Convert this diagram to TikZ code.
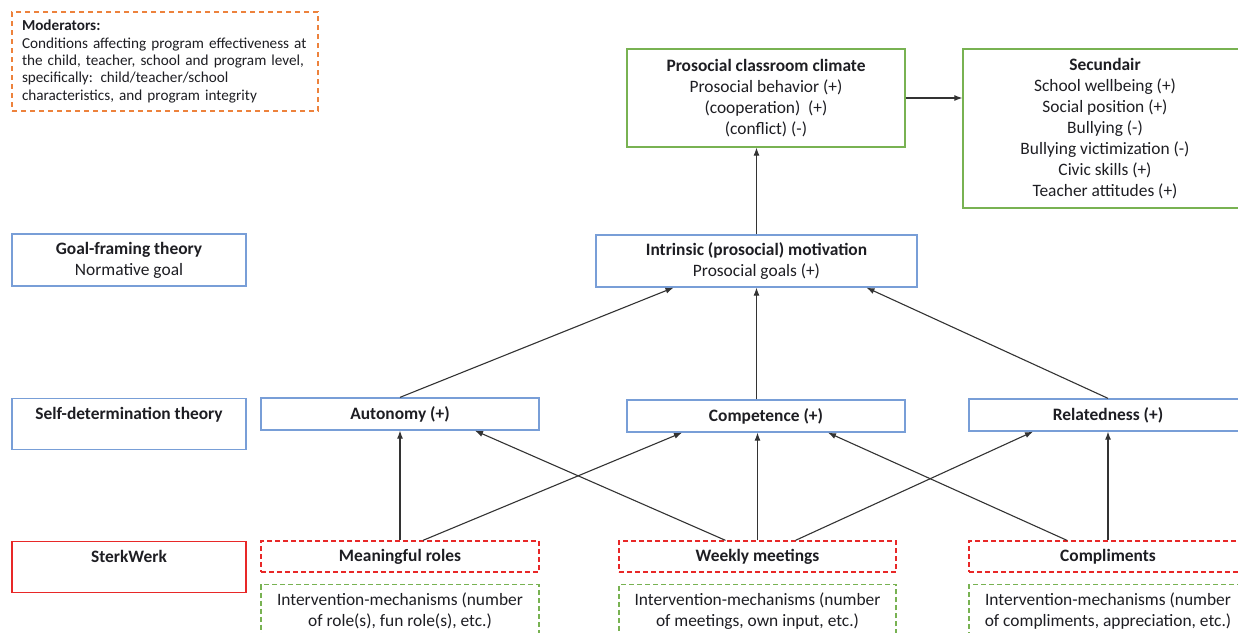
\documentclass[tikz,border=0pt]{standalone}
\usepackage{fontspec}
\setmainfont{Carlito}
\usetikzlibrary{arrows.meta,positioning,calc}
\definecolor{theoryBlue}{RGB}{120,158,215}
\definecolor{outcomeGreen}{RGB}{120,178,82}
\definecolor{programRed}{RGB}{232,40,40}
\definecolor{moderatorOrange}{RGB}{237,130,60}
\definecolor{textDark}{RGB}{30,30,35}
\newcommand{\boxfont}{\fontsize{17.4}{21}\selectfont}
\newcommand{\notefont}{\fontsize{15.2}{17.3}\selectfont}
\tikzset{
  theory/.style={draw=theoryBlue, line width=1.3pt, fill=white, align=center, text=textDark, font=\boxfont, inner sep=3pt},
  outcome/.style={draw=outcomeGreen, line width=1.3pt, fill=white, align=center, text=textDark, font=\boxfont, inner sep=3pt},
  program/.style={draw=programRed, line width=1.3pt, fill=white, align=center, text=textDark, font=\boxfont, inner sep=3pt},
  component/.style={draw=programRed, line width=1.3pt, dash pattern=on 5pt off 3pt, align=center, text=textDark, font=\boxfont, inner sep=3pt},
  mechanism/.style={draw=outcomeGreen, line width=1.3pt, dash pattern=on 5pt off 3pt, align=center, text=textDark, font=\boxfont, inner xsep=3pt, inner ysep=8pt, anchor=north},
  moderator/.style={draw=moderatorOrange, line width=1.3pt, dash pattern=on 5pt off 4pt, align=left, text=textDark, font=\notefont, inner xsep=10pt},
  toptext/.style={anchor=north, inner ysep=5pt, text height=16pt, text depth=25pt},
  arrow/.style={-{Latex[length=8pt,width=6pt]}, line width=1.1pt, draw=black!80}
}

\begin{document}
\begin{tikzpicture}[x=1pt,y=-1pt]
  \clip (0,0) rectangle (1238,632);
  \fill[white] (0,0) rectangle (1238,632);

  % moderators
  \node[moderator, minimum width=306pt, minimum height=99pt, text width=286pt] (moderators) at (165,61.5) {
    \textbf{Moderators:}\\
    Conditions affecting program effectiveness at\\
    the child, teacher, school and program level,\\
    specifically: child/teacher/school\\
    characteristics, and program integrity
  };

  % outcomes
  \node[outcome, minimum width=278pt, minimum height=98pt] (prosocial) at (766,98) {
    \textbf{Prosocial classroom climate}\\
    Prosocial behavior (+)\\
    (cooperation)\ \ (+)\\
    (conflict) (-)
  };
  \node[outcome, minimum width=284pt, minimum height=159pt] (secundair) at (1105,128.5) {
    \textbf{Secundair}\\
    School wellbeing (+)\\
    Social position (+)\\
    Bullying (-)\\
    Bullying victimization (-)\\
    Civic skills (+)\\
    Teacher attitudes (+)
  };

  % theories
  \node[theory, minimum width=234pt, minimum height=52pt] (goalframing) at (129,260) {
    \textbf{Goal-framing theory}\\
    Normative goal
  };
  \node[theory, minimum width=321pt, minimum height=52pt] (intrinsic) at (756.5,261) {
    \textbf{Intrinsic (prosocial) motivation}\\
    Prosocial goals (+)
  };
  \node[theory, toptext, minimum width=234pt] (selfdetermination) at (129,398) {\textbf{Self-determination theory}};
  \node[theory, minimum width=278pt, minimum height=32pt] (autonomy) at (400,414) {\textbf{Autonomy (+)}};
  \node[theory, minimum width=278pt, minimum height=32pt] (competence) at (766,416) {\textbf{Competence (+)}};
  \node[theory, minimum width=278pt, minimum height=32pt] (relatedness) at (1108,415) {\textbf{Relatedness (+)}};

  % program
  \node[program, toptext, minimum width=234pt] (sterkwerk) at (129,541) {\textbf{SterkWerk}};
  \node[component, minimum width=278pt, minimum height=31pt] (roles) at (400,556.5) {\textbf{Meaningful roles}};
  \node[component, minimum width=277pt, minimum height=31pt] (weekly) at (757.5,556.5) {\textbf{Weekly meetings}};
  \node[component, minimum width=278pt, minimum height=31pt] (compliments) at (1108,556.5) {\textbf{Compliments}};

  \node[mechanism, minimum width=278pt] (rolesmech) at (400,584) {
    Intervention-mechanisms (number\\
    of role(s), fun role(s), etc.)
  };
  \node[mechanism, minimum width=277pt] (weeklymech) at (757.5,584) {
    Intervention-mechanisms (number\\
    of meetings, own input, etc.)
  };
  \node[mechanism, minimum width=278pt] (complimentsmech) at (1108,584) {
    Intervention-mechanisms (number\\
    of compliments, appreciation, etc.)
  };

  % connectors
  \draw[arrow] (prosocial.east) -- (prosocial.east -| secundair.west);
  \draw[arrow] (intrinsic.north) -- (intrinsic.north |- prosocial.south);
  \draw[arrow] (autonomy.north) -- ([xshift=-83pt]intrinsic.south);
  \draw[arrow] (competence.north -| intrinsic.south) -- (intrinsic.south);
  \draw[arrow] (relatedness.north) -- ([xshift=110pt]intrinsic.south);

  \draw[arrow] (roles.north) -- (autonomy.south);
  \draw[arrow] ([xshift=23pt]roles.north) -- ([xshift=-84pt]competence.south);
  \draw[arrow] ([xshift=-32pt]weekly.north) -- ([xshift=75pt]autonomy.south);
  \draw[arrow] (weekly.north) -- (weekly.north |- competence.south);
  \draw[arrow] ([xshift=38pt]weekly.north) -- ([xshift=-75pt]relatedness.south);
  \draw[arrow] ([xshift=-41pt]compliments.north) -- ([xshift=62pt]competence.south);
  \draw[arrow] (compliments.north) -- (relatedness.south);
\end{tikzpicture}
\end{document}
